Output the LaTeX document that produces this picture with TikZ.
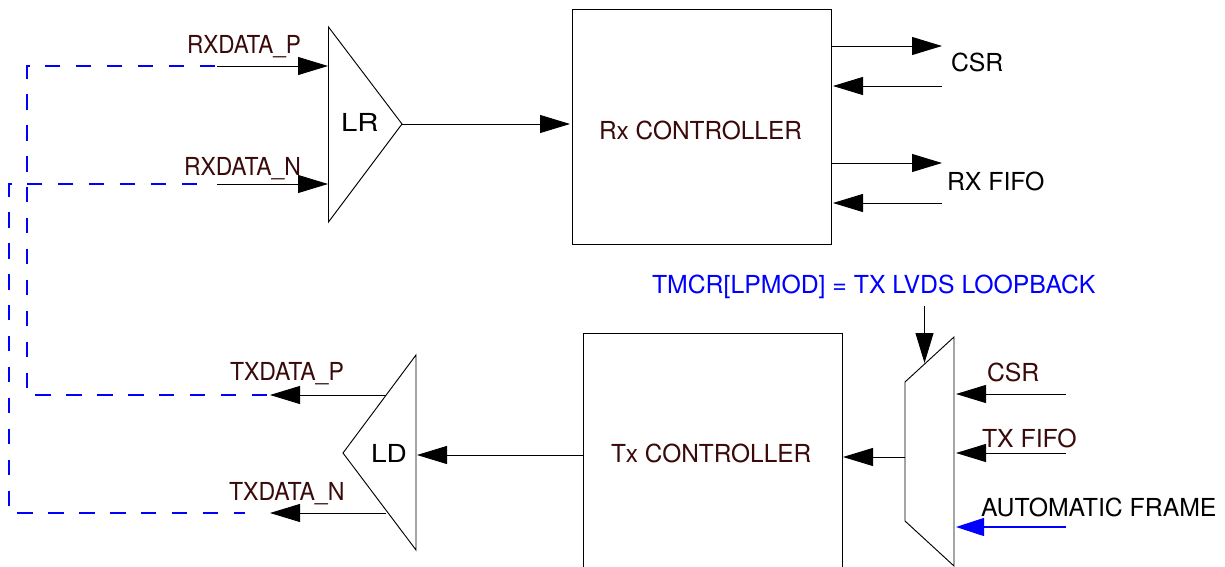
\documentclass[tikz,border=0pt]{standalone}
\usepackage{fontspec}
\usepackage{graphicx}
\setmainfont{TeX Gyre Heros}
\usetikzlibrary{arrows.meta}
\definecolor{lblbrown}{HTML}{3A0A0A}
\definecolor{wireblue}{RGB}{0,0,255}
\tikzset{
  x=0.75pt,y=-0.75pt,
  wire/.style={draw=black,line width=0.7pt,-{Triangle[length=22.5pt,width=13.5pt]}},
  bluewire/.style={draw=wireblue,line width=0.8pt,-{Triangle[length=21pt,width=13.5pt,fill=wireblue]}},
  loopline/.style={draw=wireblue,line width=0.8pt,dash pattern=on 11.55pt off 11.63pt},
  shapeline/.style={draw=black,line width=0.7pt},
  lbl/.style={anchor=base west,inner sep=0pt,outer sep=0pt,font=\fontsize{18.6pt}{20pt}\selectfont},
  dark/.style={lbl,text=lblbrown},
  ctrl/.style={draw=black,line width=0.7pt,inner sep=0pt,minimum width=194.25pt}
}
\begin{document}
\begin{tikzpicture}
\clip (0,0) rectangle (1225,567);
% blocks
\node[ctrl,anchor=north west,minimum height=176.25pt] (rx) at (572,9) {};
\node[ctrl,anchor=north west,minimum height=210pt] (tx) at (583,333) {};
% LR receiver
\coordinate (lrt) at (328.5,27);
\coordinate (lrb) at (328.5,222);
\coordinate (lro) at (402,124);
\draw[shapeline] (lrt) -- (lro) -- (lrb) -- cycle;
% LD driver
\coordinate (ldt) at (416,355);
\coordinate (ldb) at (416,550);
\coordinate (ldo) at (343,453);
\draw[shapeline] (ldt) -- (ldo) -- (ldb) -- cycle;
% Mux
\coordinate (mtr) at (954,337);
\coordinate (mtl) at (905,382);
\coordinate (mbl) at (905,521);
\coordinate (mbr) at (954,566);
\draw[shapeline] (mtr) -- (mtl) -- (mbl) -- (mbr) -- cycle;
% connector ends
\coordinate (rxpin) at (217,66);  \coordinate (rxptip) at (328,66);
\coordinate (rxnin) at (217,184); \coordinate (rxntip) at (328,184);
\coordinate (rxtip) at (570,124);
\coordinate (csra) at (831,46);  \coordinate (csratip) at (942,46);
\coordinate (csrb) at (942,86);  \coordinate (csrbtip) at (833,86);
\coordinate (fifoa) at (831,163); \coordinate (fifoatip) at (942,163);
\coordinate (fifob) at (942,203); \coordinate (fifobtip) at (833,203);
\coordinate (muxout) at (905,457); \coordinate (muxouttip) at (843,457);
\coordinate (txout) at (583,455); \coordinate (txouttip) at (417,455);
\coordinate (txp) at (386,395); \coordinate (txptip) at (270,395);
\coordinate (txn) at (386,513); \coordinate (txntip) at (270,513);
\coordinate (ina) at (1066,394); \coordinate (inatip) at (956,394);
\coordinate (inb) at (1066,453); \coordinate (inbtip) at (956,453);
\coordinate (inc) at (1066,527); \coordinate (inctip) at (956,527);
\coordinate (seltop) at (924.5,306); \coordinate (seltip) at (924.5,363);
% loopback corners
\coordinate (la) at (215,66); \coordinate (lb) at (27,66); \coordinate (lc) at (27,395); \coordinate (ldd) at (270,395);
\coordinate (ma) at (197,184); \coordinate (mb) at (9,184); \coordinate (mc) at (9,513); \coordinate (md) at (245,513);
% connectors
\draw[wire] (rxpin) -- (rxptip);
\draw[wire] (rxnin) -- (rxntip);
\draw[wire] (lro) -- (rxtip);
\draw[wire] (csra) -- (csratip);
\draw[wire] (csrb) -- (csrbtip);
\draw[wire] (fifoa) -- (fifoatip);
\draw[wire] (fifob) -- (fifobtip);
\draw[wire] (muxout) -- (muxouttip);
\draw[wire] (txout) -- (txouttip);
\draw[wire] (txp) -- (txptip);
\draw[wire] (txn) -- (txntip);
\draw[wire] (ina) -- (inatip);
\draw[wire] (inb) -- (inbtip);
\draw[bluewire] (inc) -- (inctip);
\draw[wire] (seltop) -- (seltip);
\draw[loopline] (la) -- (lb) -- (lc) -- (ldd);
\draw[loopline] (ma) -- (mb) -- (mc) -- (md);
% labels
\node[dark] (trxp) at (187,54) {\scalebox{.91}[1]{RXDATA\_P}};
\node[dark] (trxn) at (184,175) {\scalebox{.924}[1]{RXDATA\_N}};
\node[dark] (ttxp) at (230,380) {\scalebox{.93}[1]{TXDATA\_P}};
\node[dark] (ttxn) at (229,500) {\scalebox{.933}[1]{TXDATA\_N}};
\node[lbl] (tlr) at (341,132) {\scalebox{1.18}[1]{LR}};
\node[lbl] (tld) at (371,462) {\scalebox{1.13}[1]{LD}};
\node[dark] (trx) at (599,139) {\scalebox{.985}[1]{Rx CONTROLLER}};
\node[dark] (ttx) at (611,462) {\scalebox{.985}[1]{Tx CONTROLLER}};
\node[lbl] (tcsr) at (951,72) {CSR};
\node[lbl] (tfifo) at (947,190) {RX FIFO};
\node[lbl,text=blue] (tsel) at (652,293) {TMCR[LPMOD] = TX LVDS LOOPBACK};
\node[dark] (tcsrb) at (987,381) {CSR};
\node[dark] (ttxf) at (982,447) {TX FIFO};
\node[lbl] (tauto) at (981,516) {AUTOMATIC FRAME};
\end{tikzpicture}
\end{document}
